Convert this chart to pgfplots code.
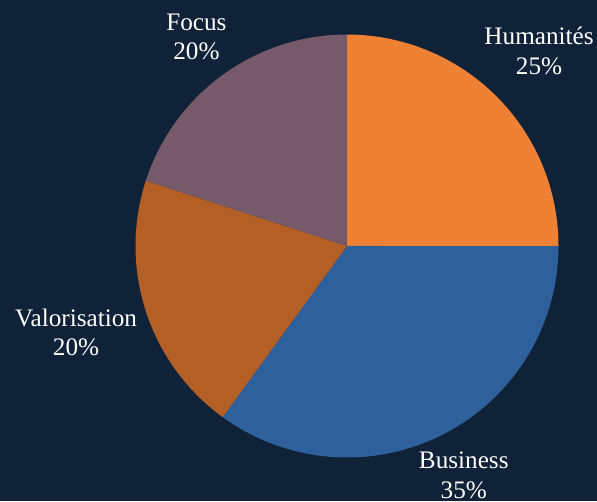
\documentclass[border=0pt]{standalone}
\usepackage{fontspec}
\setmainfont{Liberation Serif}
\usepackage{pgfplots}
\pgfplotsset{compat=1.18}
\usepackage{pgfplotstable}
\definecolor{bg}{HTML}{0F2237}
\definecolor{hum}{HTML}{EF8134}
\definecolor{bus}{HTML}{2E609C}
\definecolor{val}{HTML}{B45F26}
\definecolor{foc}{HTML}{775A69}
% shares (percent); slices run clockwise from 90 degrees
% Humanites 25, Business 35, Valorisation 20, Focus 20
\begin{document}
\begin{tikzpicture}[x=1pt,y=1pt]
\fill[bg] (0,0) rectangle (597,501);
\path[use as bounding box] (0,0) rectangle (597,501);
\begin{axis}[
  at={(347pt,255pt)}, anchor=origin,
  x=211.5pt, y=211.5pt,
  xmin=-1.1, xmax=1.1, ymin=-1.1, ymax=1.1,
  hide axis, clip=false,
  samples=120,
]
% Humanites 25% : 90 -> 0
\addplot[fill=hum, draw=none, domain=0:90] ({cos(x)},{sin(x)}) -- (axis cs:0,0) -- cycle;
% Business 35% : 0 -> -126
\addplot[fill=bus, draw=none, domain=-126:0] ({cos(x)},{sin(x)}) -- (axis cs:0,0) -- cycle;
% Valorisation 20% : -126 -> -198
\addplot[fill=val, draw=none, domain=-198:-126] ({cos(x)},{sin(x)}) -- (axis cs:0,0) -- cycle;
% Focus 20% : -198 -> -270
\addplot[fill=foc, draw=none, domain=-270:-198] ({cos(x)},{sin(x)}) -- (axis cs:0,0) -- cycle;

\tikzset{lab/.style={text=white, font=\fontsize{25.2}{29}\selectfont, anchor=base, inner sep=0pt}}
\node[lab] at (axis cs:0.908,0.952) {Humanités};
\node[lab] at (axis cs:0.908,0.812) {25\%};
\node[lab] at (axis cs:-0.712,1.019) {Focus};
\node[lab] at (axis cs:-0.712,0.880) {20\%};
\node[lab] at (axis cs:-1.281,-0.381) {Valorisation};
\node[lab] at (axis cs:-1.281,-0.518) {20\%};
\node[lab] at (axis cs:0.552,-1.054) {Business};
\node[lab] at (axis cs:0.552,-1.193) {35\%};
\end{axis}
\end{tikzpicture}
\end{document}
